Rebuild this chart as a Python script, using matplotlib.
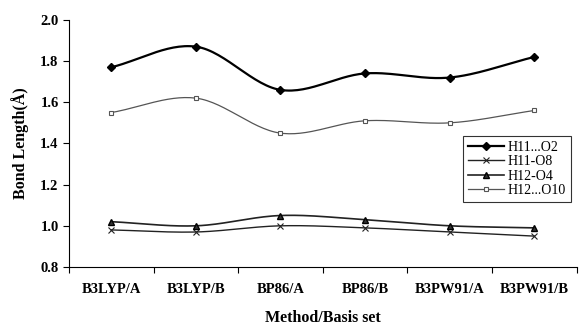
import numpy as np
import matplotlib
matplotlib.use("Agg")
import matplotlib.pyplot as plt

categories = ["B3LYP/A", "B3LYP/B", "BP86/A", "BP86/B", "B3PW91/A", "B3PW91/B"]
h11_o2 = [1.77, 1.87, 1.66, 1.74, 1.72, 1.82]
h11_o8 = [0.98, 0.97, 1.00, 0.99, 0.97, 0.95]
h12_o4 = [1.02, 1.00, 1.05, 1.03, 1.00, 0.99]
h12_o10 = [1.55, 1.62, 1.45, 1.51, 1.50, 1.56]

plt.rcParams['font.family'] = ['Liberation Serif', 'DejaVu Serif']

def smooth(x, y, n=30):
    x = np.asarray(x, float); y = np.asarray(y, float)
    px = np.concatenate([[2*x[0]-x[1]], x, [2*x[-1]-x[-2]]])
    py = np.concatenate([[2*y[0]-y[1]], y, [2*y[-1]-y[-2]]])
    xs, ys = [], []
    for i in range(1, len(px)-2):
        t = np.linspace(0, 1, n, endpoint=(i == len(px)-3))
        p0, p1, p2, p3 = [np.array([px[j], py[j]]) for j in (i-1, i, i+1, i+2)]
        t2, t3 = t*t, t*t*t
        pts = 0.5*((2*p1)[:, None] + (-p0+p2)[:, None]*t + (2*p0-5*p1+4*p2-p3)[:, None]*t2 + (-p0+3*p1-3*p2+p3)[:, None]*t3)
        xs.append(pts[0]); ys.append(pts[1])
    return np.concatenate(xs), np.concatenate(ys)

fig = plt.figure(figsize=(5.8, 3.26), dpi=100)
ax = fig.add_axes([0.119, 0.181, 0.875, 0.758])
x = np.arange(len(categories))

series = [
    (h11_o2, "H11...O2", dict(marker='D', ms=4, mfc='black', mec='black'), 1.6, 'black'),
    (h11_o8, "H11-O8", dict(marker='x', ms=4, mec='#222222', mew=0.8), 1.0, '#222222'),
    (h12_o4, "H12-O4", dict(marker='^', ms=4.5, mfc='#333333', mec='black'), 1.2, '#222222'),
    (h12_o10, "H12...O10", dict(marker='s', ms=3.5, mfc='white', mec='#555555', mew=0.8), 0.9, '#555555'),
]
for vals, lab, mk, lw, col in series:
    sx, sy = smooth(x, vals)
    ax.plot(sx, sy, color=col, lw=lw)
    ax.plot(x, vals, linestyle='none', **mk)
    ax.plot([], [], color=col, lw=lw, label=lab, **mk)

ax.set_xlim(-0.5, 5.5)
ax.set_ylim(0.8, 2.0)
yt = [0.8, 1.0, 1.2, 1.4, 1.6, 1.8, 2.0]
ax.set_yticks(yt)
ax.set_yticklabels([f"{v:.1f}" for v in yt], fontsize=10.5, fontweight='bold')
ax.set_xticks(np.arange(-0.5, 6, 1.0))
ax.set_xticklabels([])
ax.tick_params(axis='x', length=4, direction='out')
ax.tick_params(axis='y', length=4, direction='out')
for i, c in enumerate(categories):
    ax.text(i, -0.065, c, transform=ax.get_xaxis_transform(), ha='center', va='top', fontsize=10.5, fontweight='bold')
fig.text(0.119 + 0.875*0.5, 0.025, "Method/Basis set", ha='center', va='center', fontsize=11.5, fontweight='bold')
ax.set_ylabel("Bond Length(Å)", fontsize=11.5, fontweight='bold', labelpad=8)
ax.spines['top'].set_visible(False)
ax.spines['right'].set_visible(False)
leg = ax.legend(loc='upper left', bbox_to_anchor=(0.776, 0.53), frameon=True, fancybox=False,
                edgecolor='black', fontsize=10, handlelength=2.6, borderpad=0.35, labelspacing=0.1,
                handletextpad=0.3, borderaxespad=0)
leg.get_frame().set_linewidth(0.8)
fig.savefig("out.png", dpi=100)
